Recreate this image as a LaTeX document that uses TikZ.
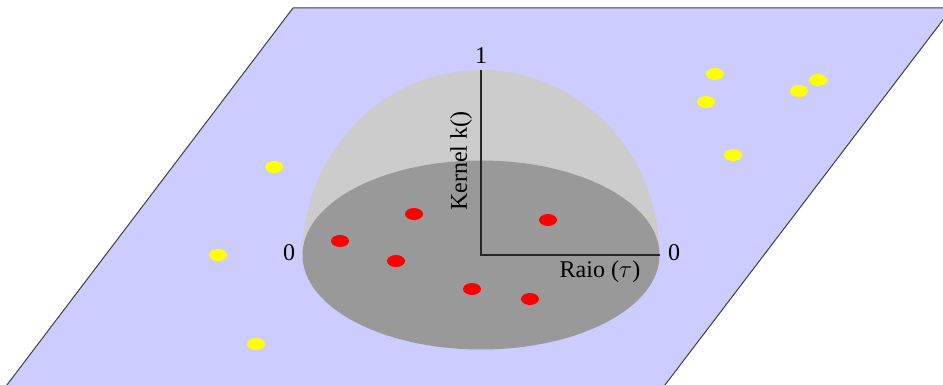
\documentclass[tikz,border=0pt]{standalone}
\usepackage{fontspec}
\setmainfont{Liberation Serif}
\usetikzlibrary{shapes.geometric}
\definecolor{planeblue}{RGB}{204,204,255}
\definecolor{domelight}{RGB}{204,204,204}
\definecolor{domedark}{RGB}{153,153,153}
\definecolor{dotyellow}{RGB}{255,255,0}
\begin{document}
\begin{tikzpicture}[x=1pt,y=-1pt,
  dot/.style={ellipse,minimum width=18pt,minimum height=12pt,inner sep=0pt,draw=none},
  reddot/.style={dot,fill=red},
  yellowdot/.style={dot,fill=dotyellow},
  lbl/.style={font=\fontsize{24}{28}\selectfont,inner sep=0pt},
  axis/.style={draw=black!85,line width=1.3pt}]
\useasboundingbox (0,0) rectangle (943,385);
\clip (0,0) rectangle (943,385);
% plane
\filldraw[fill=planeblue,draw=black!75,line width=1pt]
  (293,8) -- (952,8) -- (652,402) -- (-6,402) -- cycle;
% dome
\fill[domelight] (302.5,255) arc[start angle=180,end angle=360,x radius=178.5,y radius=185] -- cycle;
\fill[domedark] (481,255) ellipse[x radius=178.5,y radius=94.5];
% axes
\coordinate (o) at (481,255);
\coordinate (top) at (481,70);
\coordinate (right) at (660,255);
\draw[axis] (top) -- (o) -- (right);
% labels
\node[lbl] (one) at (481,56) {1};
\node[lbl] (zl) at (289,253) {0};
\node[lbl] (zr) at (674,253) {0};
\node[lbl,rotate=90] (kern) at (461,161) {Kernel k()};
\node[lbl] (raio) at (600,272) {Raio ($\tau$)};
% red points
\node[reddot] (r1) at (414,214) {};
\node[reddot] (r2) at (340,241) {};
\node[reddot] (r3) at (396,261) {};
\node[reddot] (r4) at (548,220) {};
\node[reddot] (r5) at (472,289) {};
\node[reddot] (r6) at (530,299) {};
% yellow points
\node[yellowdot] (y1) at (715,74) {};
\node[yellowdot] (y2) at (818,80) {};
\node[yellowdot] (y3) at (706,102) {};
\node[yellowdot] (y4) at (799,91) {};
\node[yellowdot] (y5) at (733,155) {};
\node[yellowdot] (y6) at (274,167) {};
\node[yellowdot] (y7) at (218,255) {};
\node[yellowdot] (y8) at (256,344) {};
\end{tikzpicture}
\end{document}
